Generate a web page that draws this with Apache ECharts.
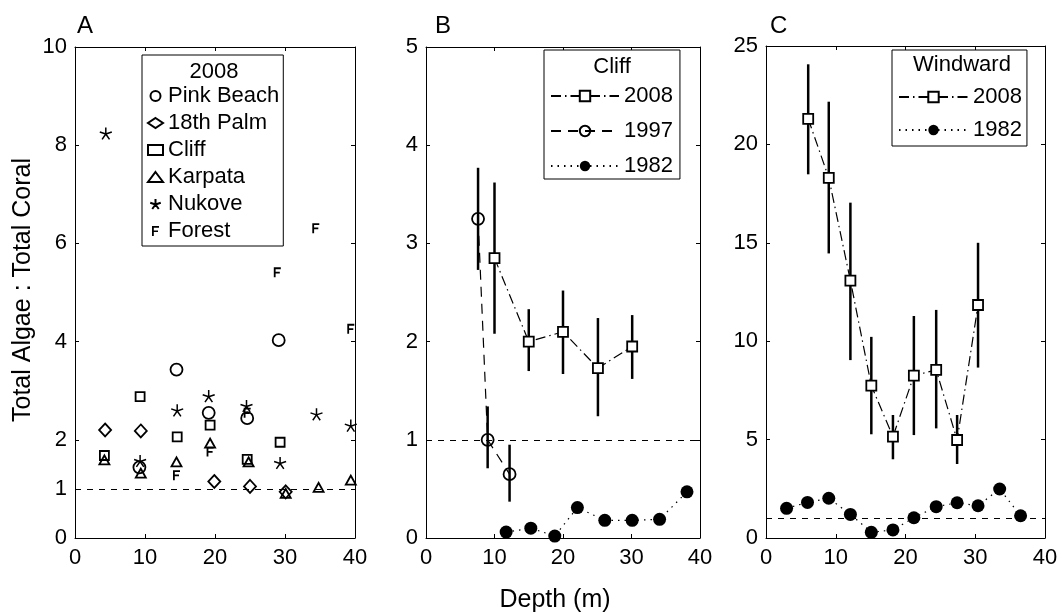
<!DOCTYPE html>
<html><head><meta charset="utf-8">
<script src="https://cdn.jsdelivr.net/npm/echarts@6/dist/echarts.min.js"></script>
<style>html,body{margin:0;padding:0;background:#fff}#c{width:1062px;height:613px}</style>
</head><body><div id="c"></div>
<script>
// ---------- data ----------
const depthTicks = [0, 10, 20, 30, 40];
const yTicksA = [0, 1, 2, 4, 6, 8, 10];
// Panel A (2008, all sites): [depth, ratio]
const pinkBeach = [[9.2,1.44],[14.5,3.43],[19.1,2.55],[24.6,2.44],[29.1,4.03]];
const palm18 = [[4.3,2.2],[9.4,2.18],[19.9,1.15],[25.0,1.05],[30.1,0.94]];
const cliffA = [[4.2,1.68],[9.3,2.88],[14.6,2.06],[19.3,2.3],[24.6,1.6],[29.3,1.95]];
const karpata = [[4.2,1.59],[9.4,1.32],[14.5,1.55],[19.3,1.93],[24.8,1.55],[30.1,0.91],[34.8,1.03],[39.4,1.18]];
const nukove = [[4.4,8.24],[9.3,1.57],[14.6,2.6],[19.1,2.89],[24.5,2.69],[29.3,1.53],[34.5,2.52],[39.4,2.29]];
const forest = [[14.5,1.28],[19.3,1.76],[24.6,2.55],[28.9,5.41],[34.4,6.31],[39.4,4.26]];
// Panel B (Cliff)
const cliff2008 = [[10.0,2.85],[15.0,2.0],[20.0,2.1],[25.1,1.73],[30.1,1.95]];
const cliff2008Err = [[2.08,3.62],[1.70,2.33],[1.67,2.52],[1.24,2.24],[1.62,2.27]];
const cliff1997 = [[7.6,3.25],[9.0,1.0],[12.2,0.65]];
const cliff1997Err = [[2.73,3.77],[0.71,1.34],[0.37,0.95]];
const cliff1982 = [[11.7,0.06],[15.3,0.1],[18.8,0.02],[22.1,0.31],[26.1,0.18],[30.1,0.18],[34.1,0.19],[38.1,0.47]];
// Panel C (Windward)
const wind2008 = [[6.05,21.3],[9.0,18.3],[12.1,13.08],[15.1,7.74],[18.2,5.15],[21.2,8.25],[24.4,8.54],[27.4,4.98],[30.4,11.84]];
const wind2008Err = [[18.48,24.07],[14.46,22.17],[9.04,17.04],[5.27,10.22],[4.0,6.25],[5.23,11.28],[5.57,11.59],[3.76,6.25],[8.66,15.0]];
const wind1982 = [[2.95,1.51],[5.95,1.81],[9.0,2.02],[12.1,1.2],[15.1,0.29],[18.2,0.41],[21.2,1.03],[24.4,1.59],[27.4,1.79],[30.4,1.64],[33.5,2.49],[36.5,1.13]];

// ---------- chart ----------
const FONT = "'Liberation Sans', Arial, sans-serif";
const chart = echarts.init(document.getElementById('c'), null, {renderer:'canvas'});

const grids = [
  {left:75, top:47, width:280, height:491},
  {left:426, top:47, width:274, height:491},
  {left:766, top:46, width:279, height:492}
];
const xAxes = [], yAxes = [];
function addPanel(gi, ymax, yint, ycustom){
  const line = {show:true, onZero:false, lineStyle:{color:'#000', width:1}};
  const tick = {show:true, inside:true, length:4, lineStyle:{color:'#000'}};
  xAxes.push({gridIndex:gi, type:'value', min:depthTicks[0], max:depthTicks[depthTicks.length-1], interval:10, position:'bottom',
    axisLine:line, axisTick:tick, splitLine:{show:false},
    axisLabel:{fontSize:22, color:'#000', fontFamily:FONT, margin:9}});
  xAxes.push({gridIndex:gi, type:'value', min:0, max:40, interval:10, position:'top',
    axisLine:line, axisTick:tick, splitLine:{show:false}, axisLabel:{show:false}});
  const yl = {gridIndex:gi, type:'value', min:0, max:ymax, interval:yint, position:'left',
    axisLine:line, axisTick:Object.assign({}, tick), splitLine:{show:false},
    axisLabel:{fontSize:22, color:'#000', fontFamily:FONT, margin:8}};
  const yr = {gridIndex:gi, type:'value', min:0, max:ymax, interval:yint, position:'right',
    axisLine:line, axisTick:Object.assign({}, tick), splitLine:{show:false}, axisLabel:{show:false}};
  if (ycustom){
    yl.axisLabel.customValues = ycustom; yl.axisTick.customValues = ycustom;
    yr.axisTick.customValues = ycustom;
    yl.axisLabel.formatter = v => (ycustom.indexOf(v) >= 0 ? String(v) : '');
  }
  yAxes.push(yl, yr);
}
addPanel(0, 10, 1, yTicksA);
addPanel(1, 5, 1, null);
addPanel(2, 25, 5, null);

const hollow = {color:'rgba(0,0,0,0)', borderColor:'#000', borderWidth:1.8, opacity:1};
const STAR = 'path://M5,5 L5,0 M5,5 L9.76,3.45 M5,5 L7.94,9.05 M5,5 L2.06,9.05 M5,5 L0.24,3.45';
const FPATH = 'path://M0,0 L7,0 L7,1.8 L1.8,1.8 L1.8,4.4 L6,4.4 L6,6.1 L1.8,6.1 L1.8,10 L0,10 Z';
const refLine = {silent:true, symbol:['none','none'], label:{show:false},
  lineStyle:{color:'#000', width:1, type:[6,6]}, data:[{yAxis:1}], animation:false};
const DASHDOT = [10,4,1.5,4];
const DASH = [10,7];
const DOT = [1.5,5];

function errSeries(name, xi, pts, errs){
  return {name:name, type:'custom', xAxisIndex:xi, yAxisIndex:xi, z:1, silent:true,
    data: pts.map((p,i)=>[p[0], errs[i][0], errs[i][1]]),
    encode:{x:0, y:[1,2]},
    renderItem:(params, api)=>{
      const a = api.coord([api.value(0), api.value(1)]);
      const b = api.coord([api.value(0), api.value(2)]);
      return {type:'line', shape:{x1:a[0], y1:a[1], x2:b[0], y2:b[1]}, style:{stroke:'#000', lineWidth:2.5}};
    }};
}
function sc(name, data, symbol, size, style, extra){
  return Object.assign({name:name, type:'scatter', xAxisIndex:0, yAxisIndex:0, data:data,
    symbol:symbol, symbolSize:size, itemStyle:style, z:3, emphasis:{disabled:true}}, extra||{});
}
function ln(name, xi, data, symbol, size, itemStyle, dash, extra){
  return Object.assign({name:name, type:'line', xAxisIndex:xi, yAxisIndex:xi, data:data,
    symbol:symbol, symbolSize:size, showAllSymbol:true, itemStyle:itemStyle,
    lineStyle:{color:'#000', width:1.2, type:dash}, z:3, emphasis:{disabled:true}}, extra||{});
}

const series = [
  sc('Pink Beach', pinkBeach, 'circle', 12, hollow, {markLine:refLine}),
  sc('18th Palm', palm18, 'diamond', [12,13], hollow),
  sc('Cliff', cliffA, 'rect', 9, hollow),
  sc('Karpata', karpata, 'triangle', [10,9], hollow),
  sc('Nukove', nukove, STAR, 12, {color:'rgba(0,0,0,0)', borderColor:'#000', borderWidth:1.5, opacity:1}),
  sc('Forest', forest, FPATH, [7,10], {color:'#000', borderWidth:0, opacity:1}),

  errSeries('eB2008', 2, cliff2008, cliff2008Err),
  errSeries('eB1997', 2, cliff1997, cliff1997Err),
  ln('2008', 2, cliff2008, 'rect', 10, {color:'#fff', borderColor:'#000', borderWidth:1.8}, DASHDOT, {markLine:refLine}),
  ln('1997', 2, cliff1997, 'circle', 12, hollow, DASH),
  ln('1982', 2, cliff1982, 'circle', 13, {color:'#000', borderColor:'#000', borderWidth:0}, DOT),

  errSeries('eC2008', 4, wind2008, wind2008Err),
  ln('2008', 4, wind2008, 'rect', 10, {color:'#fff', borderColor:'#000', borderWidth:1.8}, DASHDOT, {markLine:refLine}),
  ln('1982', 4, wind1982, 'circle', 13, {color:'#000', borderColor:'#000', borderWidth:0}, DOT)
];

const legText = {fontSize:22, fontFamily:FONT, color:'#000'};
const legends = [
  {left:142, top:55, orient:'vertical', selectedMode:false, data:['Pink Beach','18th Palm','Cliff','Karpata','Nukove','Forest'],
   itemWidth:15, itemHeight:10, itemGap:5, padding:[30,4,4,5], borderColor:'#000', borderWidth:1, backgroundColor:'#fff', textStyle:legText},
  {left:544, top:50, orient:'vertical', selectedMode:false, data:['2008','1997','1982'],
   itemWidth:68, itemHeight:13, itemGap:13, padding:[35,7,2,6], borderColor:'#000', borderWidth:1, backgroundColor:'#fff', textStyle:legText},
  {left:892, top:50, orient:'vertical', selectedMode:false, data:['2008','1982'],
   itemWidth:69, itemHeight:13, itemGap:11, padding:[36,5,5,6], borderColor:'#000', borderWidth:1, backgroundColor:'#fff', textStyle:legText}
];

function txt(s, x, y, size, align, rot){
  return {type:'text', x:x, y:y, rotation:rot||0, z:100,
    style:{text:s, fontSize:size, fontFamily:FONT, fill:'#000', textAlign:align||'left', textVerticalAlign:'middle'}};
}
const graphics = [
  txt('A', 77, 26, 24),
  txt('B', 435, 26, 24),
  txt('C', 770, 26, 24),
  txt('2008', 214, 72, 22, 'center'),
  txt('Cliff', 612, 67, 22, 'center'),
  txt('Windward', 962, 65, 22, 'center'),
  txt('Depth (m)', 555, 600, 25, 'center'),
  txt('Total Algae : Total Coral', 23, 290, 25, 'center', Math.PI/2)
];

chart.setOption({
  animation:false,
  backgroundColor:'#fff',
  grid:grids,
  xAxis:xAxes,
  yAxis:yAxes,
  legend:legends,
  graphic:graphics,
  series:series
});
</script>
</body></html>
